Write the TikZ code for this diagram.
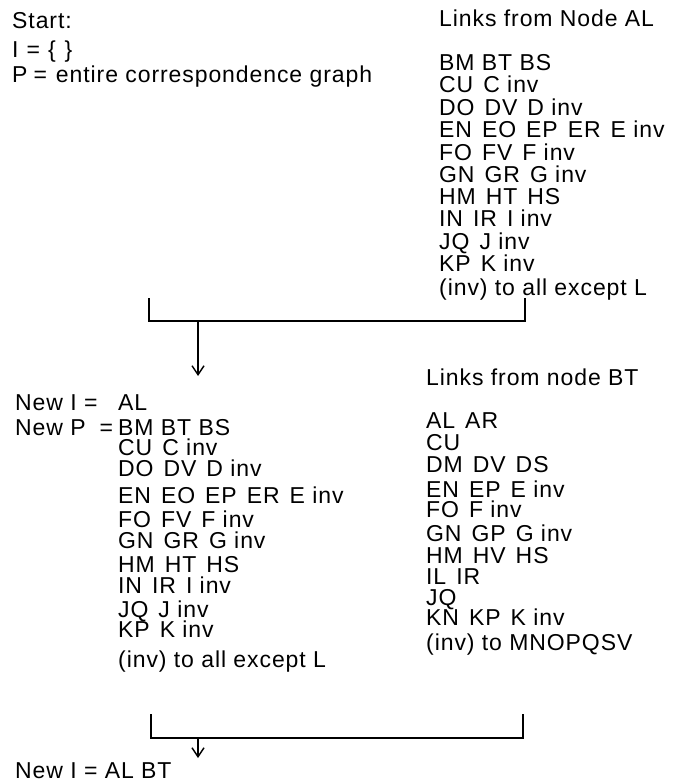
\documentclass[tikz,border=0pt]{standalone}
\usepackage{fontspec}
\setmainfont[LetterSpace=4]{Liberation Sans}
\usetikzlibrary{arrows.meta}
\newcommand\wgap{\hspace{10pt}}
\begin{document}
\begin{tikzpicture}[x=1pt,y=-1pt,
  txt/.style={anchor=base west,inner sep=0pt,font=\fontsize{23}{23}\selectfont},
  link/.style={line width=1.2pt},
  flow/.style={line width=1.4pt,-{Straight Barb[length=9pt,width=12pt,line width=1.4pt]}}]
\useasboundingbox (0,0) rectangle (692,783);
% ---- start block (top left)
\node[txt] (start) at (12,28.3) {Start:};
\node[txt] (iset) at (12,58) {I\hspace{8pt}=\hspace{8pt}\{\hspace{9pt}\}};
\node[txt] (pset) at (12,82.7) {P\hspace{6pt}=\hspace{9pt}entire correspondence graph};
% ---- links from AL (top right)
\node[txt] (hAL) at (439,26.7) {Links from Node AL};
\node[txt] (a1) at (439,70.7) {BM BT BS};
\node[txt] (a2) at (439,92.5) {CU\wgap C inv};
\node[txt] (a3) at (439,116) {DO\wgap DV\wgap D inv};
\node[txt] (a4) at (439,138) {EN\wgap EO\wgap EP\wgap ER\wgap E inv};
\node[txt] (a5) at (439,160.3) {FO\wgap FV\wgap F inv};
\node[txt] (a6) at (439,182.2) {GN\wgap GR\wgap G inv};
\node[txt] (a7) at (439,205) {HM\wgap HT\wgap HS};
\node[txt] (a8) at (439,227) {IN\wgap IR\wgap I inv};
\node[txt] (a9) at (439,249.5) {JQ\wgap J inv};
\node[txt] (a10) at (439,272) {KP\wgap K inv};
\node[txt] (a11) at (439,295) {(inv) to all except L};
% ---- first bracket and arrow
\coordinate (b1l) at (149,298);
\coordinate (b1lc) at (149,321);
\coordinate (b1r) at (525,298);
\coordinate (b1rc) at (525,321);
\coordinate (b1s) at (198,321);
\coordinate (b1t) at (198,376);
\draw[link] (b1l) -- (b1lc) -- (b1rc) -- (b1r);
\draw[flow] (b1s) -- (b1t);
% ---- new I / new P (bottom left)
\node[txt] (newI) at (15,410.7) {\makebox[103pt][l]{New I = }AL};
\node[txt] (newP) at (15,435) {\makebox[103pt][l]{New P\hfill=\hspace{5pt}}BM BT BS};
\node[txt] (p2) at (118,455) {CU\wgap C inv};
\node[txt] (p3) at (118,476) {DO\wgap DV\wgap D inv};
\node[txt] (p4) at (118,503) {EN\wgap EO\wgap EP\wgap ER\wgap E inv};
\node[txt] (p5) at (118,527) {FO\wgap FV\wgap F inv};
\node[txt] (p6) at (118,548) {GN\wgap GR\wgap G inv};
\node[txt] (p7) at (118,572) {HM\wgap HT\wgap HS};
\node[txt] (p8) at (118,593) {IN\wgap IR\wgap I inv};
\node[txt] (p9) at (118,617) {JQ\wgap J inv};
\node[txt] (p10) at (118,637) {KP\wgap K inv};
\node[txt] (p11) at (118,667) {(inv) to all except L};
% ---- links from BT (bottom right)
\node[txt] (hBT) at (426,385) {Links from node BT};
\node[txt] (t1) at (426,428) {AL\wgap AR};
\node[txt] (t2) at (426,450) {CU};
\node[txt] (t3) at (426,472) {DM\wgap DV\wgap DS};
\node[txt] (t4) at (426,497) {EN\wgap EP\wgap E inv};
\node[txt] (t5) at (426,517) {FO\wgap F inv};
\node[txt] (t6) at (426,541) {GN\wgap GP\wgap G inv};
\node[txt] (t7) at (426,563) {HM\wgap HV\wgap HS};
\node[txt] (t8) at (426,584) {IL\wgap IR};
\node[txt] (t9) at (426,605) {JQ};
\node[txt] (t10) at (426,625) {KN\wgap KP\wgap K inv};
\node[txt] (t11) at (426,650) {(inv) to MNOPQSV};
% ---- second bracket and arrow
\coordinate (b2l) at (151,714);
\coordinate (b2lc) at (151,738);
\coordinate (b2r) at (523,714);
\coordinate (b2rc) at (523,738);
\coordinate (b2s) at (198,738);
\coordinate (b2t) at (198,758);
\draw[link] (b2l) -- (b2lc) -- (b2rc) -- (b2r);
\draw[flow] (b2s) -- (b2t);
% ---- final
\node[txt] (final) at (15,778) {New I = AL BT};
\end{tikzpicture}
\end{document}
